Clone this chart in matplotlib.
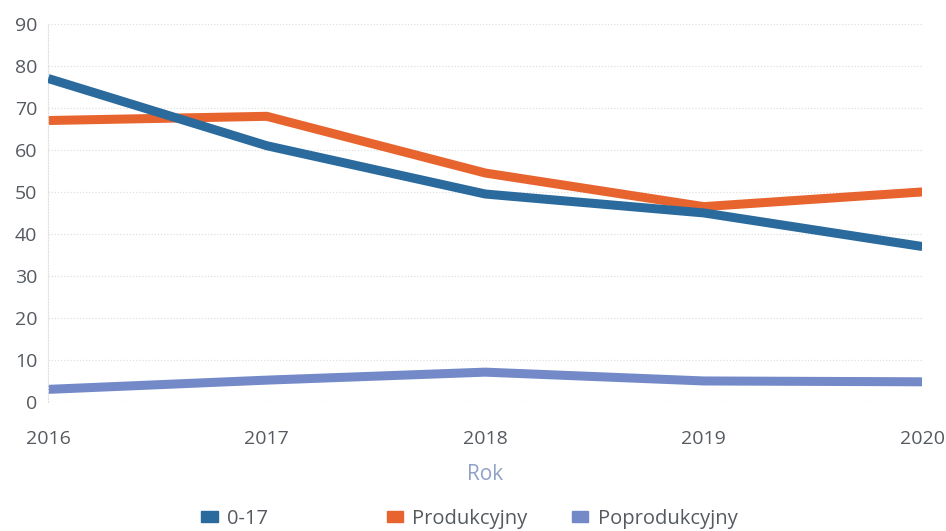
import numpy as np
import matplotlib.pyplot as plt
from matplotlib.patches import Patch

plt.rcParams['font.family'] = ['Open Sans', 'DejaVu Sans']

# Data
years = [2016, 2017, 2018, 2019, 2020]
age_0_17 = [77, 61, 49.5, 45, 37]
produkcyjny = [67, 68, 54.5, 46.5, 50]
poprodukcyjny = [3, 5.2, 7.1, 5, 4.8]

c_blue = "#2b6a9c"
c_orange = "#e8642f"
c_light = "#7489c7"
c_text = "#555a60"

fig = plt.figure(figsize=(9.46, 5.31), dpi=100)
ax = fig.add_axes([0.051, 0.243, 0.924, 0.712])

ax.plot(years, age_0_17, color=c_blue, lw=6.5, solid_capstyle="butt", zorder=3)
ax.plot(years, produkcyjny, color=c_orange, lw=6.5, solid_capstyle="butt", zorder=2)
ax.plot(years, poprodukcyjny, color=c_light, lw=6.5, solid_capstyle="butt", zorder=2)

ax.set_xlim(2016, 2020)
ax.set_ylim(0, 90)
ax.set_yticks(np.arange(0, 91, 10))
ax.set_xticks(years)
ax.grid(axis="y", color="#e0e0e0", linestyle=(0, (1, 1.5)), linewidth=0.9)
for s in ["top", "right", "bottom"]:
    ax.spines[s].set_visible(False)
ax.spines["left"].set_color("#e0e0e0")
ax.spines["left"].set_linestyle((0, (1, 1.5)))
ax.tick_params(length=0, labelsize=14, colors=c_text)
ax.tick_params(axis="x", pad=20)
ax.tick_params(axis="y", pad=8)

ax.set_xlabel("Rok", fontsize=15, color="#8ea2c6", labelpad=12)

# Legend: three items, evenly spaced like the original
labels = ["0-17", "Produkcyjny", "Poprodukcyjny"]
colors = [c_blue, c_orange, c_light]
x_pos = [0.213, 0.409, 0.605]
for lab, col, xp in zip(labels, colors, x_pos):
    fig.legend([Patch(color=col)], [lab], loc="center left", bbox_to_anchor=(xp, 0.023),
               frameon=False, fontsize=14.5, labelcolor=c_text, handlelength=0.8,
               handleheight=0.5, handletextpad=0.45, borderpad=0, borderaxespad=0)

fig.savefig("out.png", dpi=100)
